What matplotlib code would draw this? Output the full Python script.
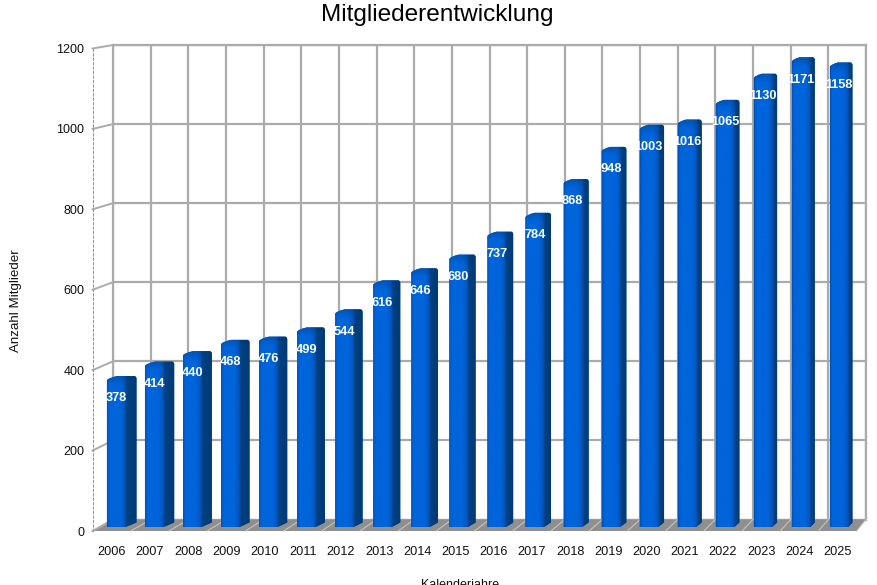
import numpy as np
import matplotlib
matplotlib.use("Agg")
import matplotlib.pyplot as plt
from matplotlib.colors import to_rgb
from matplotlib.lines import Line2D
from matplotlib.patches import Polygon, PathPatch
from matplotlib.path import Path

years = list(range(2006, 2026))
members = [378, 414, 440, 468, 476, 499, 544, 616, 646, 680,
           737, 784, 868, 948, 1003, 1016, 1065, 1130, 1171, 1158]
y_ticks = [0, 200, 400, 600, 800, 1000, 1200]

W, H = 878, 585
plt.rcParams['font.family'] = ['Liberation Sans', 'DejaVu Sans']
fig = plt.figure(figsize=(W / 100, H / 100), dpi=100, facecolor='white')


def rect(l, t, r, b):
    return [l / W, 1 - b / H, (r - l) / W, (b - t) / H]


GRID = '#ababab'
n = len(years)

# back wall
wall = fig.add_axes(rect(113, 45, 866, 519.5), zorder=0)
wall.set_xlim(0, n)
wall.set_ylim(0, 1200)
wall.set_xticks(range(n + 1))
wall.set_yticks(y_ticks)
wall.grid(True, color=GRID, lw=1.6)
wall.tick_params(length=0, labelleft=False, labelbottom=False)
for s in wall.spines.values():
    s.set_color(GRID)
    s.set_linewidth(1.6)

# front plane with the axis labels
front = fig.add_axes(rect(92.6, 48.5, 856.6, 531), zorder=1)
front.patch.set_alpha(0)
front.set_xlim(-0.5, n - 0.5)
front.set_ylim(0, 1200)
front.set_xticks(range(n))
front.set_xticklabels(years, fontsize=9.2, color='#111111')
front.set_yticks(y_ticks)
front.set_yticklabels(y_ticks, fontsize=9.0, color='#111111')
front.tick_params(axis='x', length=0, pad=11)
front.tick_params(axis='y', length=0, pad=6)
for k in ('top', 'right', 'bottom'):
    front.spines[k].set_visible(False)
front.spines['left'].set_color('#999999')
front.spines['left'].set_linewidth(0.8)
front.spines['left'].set_linestyle((0, (2, 2)))


def to_fig(ax, x, y):
    return fig.transFigure.inverted().transform(ax.transData.transform((x, y)))


# floor
fig.canvas.draw()
floor_pts = [to_fig(front, -0.5, 0), to_fig(wall, 0, 0),
             to_fig(wall, n, 0), to_fig(front, n - 0.5, 0)]
fig.add_artist(Polygon(floor_pts, closed=True, transform=fig.transFigure,
                       fc='#8f8f8f', ec='none', zorder=0.4))
for i in range(n + 1):
    a, b = to_fig(front, i - 0.5, 0), to_fig(wall, i, 0)
    fig.add_artist(Line2D([a[0], b[0]], [a[1], b[1]], transform=fig.transFigure,
                          color='#c4c4c4', lw=0.8, zorder=0.5))
for v in y_ticks:
    a, b = to_fig(front, -0.5, v), to_fig(wall, 0, v)
    fig.add_artist(Line2D([a[0], b[0]], [a[1], b[1]], transform=fig.transFigure,
                          color=GRID, lw=1.4, zorder=0.5))

# bars
SLOT = 38.05
SCALE = 0.402
left_px, right_px = 97.0, 862.0
ax = fig.add_axes(rect(left_px, 532.5 - 1200 * SCALE, right_px, 532.5), zorder=2)
ax.patch.set_alpha(0)
ax.axis('off')
x0 = (left_px - 116.2) / SLOT
x1 = (right_px - 116.2) / SLOT
ax.set_xlim(x0, x1)
ax.set_ylim(0, 1200)

hw = 9.3 / SLOT
dy = 4.5 / SCALE
base = 5.5 / SCALE
C_L, C_M, C_E, C_S, C_D = [np.array(to_rgb(c)) for c in
                           ('#0052b8', '#0064da', '#0058c4', '#00407f', '#003a76')]

for i, v in enumerate(members):
    dx = (11 - 7 * i / (n - 1)) / SLOT
    xl, xr = i - hw, i + hw
    xe = xr + dx
    top = v + dy
    verts = [(xl, base), (xl, v),
             (xl + 0.02, v + dy * 0.55), (xl + 0.35 * (xe - xl), top),
             (xe - 0.06, top), (xe, top), (xe, top - dy * 0.6),
             (xe, base + dy), (xr, base), (xl, base)]
    codes = [Path.MOVETO, Path.LINETO, Path.CURVE3, Path.CURVE3, Path.LINETO,
             Path.CURVE3, Path.CURVE3, Path.LINETO, Path.LINETO, Path.CLOSEPOLY]
    body = PathPatch(Path(verts, codes), fc='#0058c4', ec='none', zorder=2)
    ax.add_patch(body)
    # horizontal shading: bright front face fading softly into the dark side
    f = (xr - xl) / (xe - xl)
    xs = np.linspace(0, 1, 80)
    rgb = np.stack([np.interp(xs, [0, 0.12 * f, 0.7 * f, 0.92 * f, 1.06 * f, 1.0001],
                              [C_L[c], C_M[c], C_M[c], C_E[c], C_S[c], C_D[c]]) for c in range(3)], axis=-1)
    rows = 256
    img = np.repeat(rgb[None, :, :], rows, axis=0)
    # darker rim along the top of the bar
    px_from_top = np.linspace(0, ((top - base) * SCALE), rows)
    k = np.clip(1 - px_from_top / 9.0, 0, 1)[:, None, None] * 0.38
    img = img * (1 - k) + C_D * k
    im = ax.imshow(img, extent=(xl, xe, base, top), aspect='auto', zorder=2.1,
                   interpolation='bilinear')
    im.set_clip_path(body)
    ax.annotate(str(v), (i, v), xytext=(0, -12.8), textcoords='offset points',
                ha='center', va='center', color='white', fontsize=9.2,
                fontweight='bold', zorder=3)
ax.set_xlim(x0, x1)
ax.set_ylim(0, 1200)

fig.text(437.5 / W, 1 - 15 / H, 'Mitgliederentwicklung', ha='center', va='center',
         fontsize=17.6, color='black')
fig.text(16 / W, 1 - 301 / H, 'Anzahl Mitglieder', rotation=90, ha='center',
         va='center', fontsize=9.6, color='#111111')
fig.text(460 / W, 1 - 585 / H, 'Kalenderjahre', ha='center', va='center',
         fontsize=9.0, color='#111111')

fig.savefig('out.png', dpi=100)
